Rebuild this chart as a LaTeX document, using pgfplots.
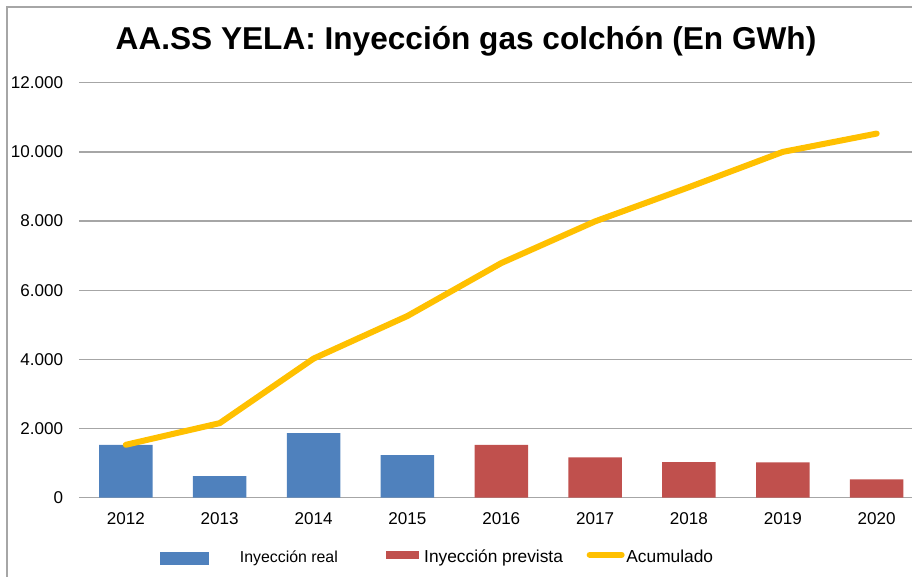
\documentclass[border=0pt]{standalone}
\usepackage{pgfplots}
\pgfplotsset{compat=1.18}
\usepackage{fontspec}
\setmainfont{Liberation Sans}
\definecolor{barblue}{HTML}{4F81BD}
\definecolor{barred}{HTML}{C0504D}
\definecolor{linegold}{HTML}{FFC000}
\definecolor{gridgray}{HTML}{A6A6A6}
\begin{document}
\begin{tikzpicture}
\path[use as bounding box] (0pt,0pt) rectangle (684pt,-432.75pt);
\draw[gridgray, line width=1pt] (5.25pt,-432.75pt) -- (5.25pt,-5.25pt) -- (684pt,-5.25pt);
\node[font=\fontsize{23.7}{27}\selectfont\bfseries, inner sep=0pt, anchor=base] at (349.5pt,-37pt) {AA.SS YELA: Inyección gas colchón (En GWh)};
\begin{axis}[
  at={(59.175pt,-373.275pt)}, anchor=south west, scale only axis,
  width=624.8pt, height=311.25pt,
  xmin=-0.5, xmax=8.376, ymin=0, ymax=12000,
  axis line style={draw=none},
  major tick length=0pt,
  scaled y ticks=false,
  ytick={0,2000,4000,6000,8000,10000,12000},
  ymajorgrids, grid style={gridgray, line width=1pt},
  xtick={0,1,2,3,4,5,6,7,8},
  xticklabels={2012,2013,2014,2015,2016,2017,2018,2019,2020},
  yticklabel style={font=\fontsize{12.8}{15}\selectfont, inner sep=0pt, xshift=-11.7pt},
  xticklabel style={font=\fontsize{12.8}{15}\selectfont, inner sep=0pt, yshift=-10.7pt},
  legend columns=3,
  legend style={at={(axis description cs:0.0973,-0.144)}, anchor=west, draw=none, fill=none,
    inner sep=0pt, outer sep=0pt, column sep=0pt,
    nodes={inner sep=0pt, font=\fontsize{13}{15}\selectfont}},
  /pgf/number format/1000 sep={.},
  /pgf/number format/assume math mode=true,
]
\addplot[ybar, bar width=0.57, bar shift=0pt, fill=barblue, draw=none,
  legend image code/.code={\fill[barblue] (0pt,-5.65pt) rectangle (36.75pt,4.15pt);}]
  coordinates {(0,1530) (1,626) (2,1866) (3,1232)};
\addlegendentry{\hspace*{23.25pt}{\fontsize{11.9}{14}\selectfont Inyección real}\hspace*{36pt}\null}
\addplot[ybar, bar width=0.57, bar shift=0pt, fill=barred, draw=none,
  legend image code/.code={\fill[barred] (0pt,-1.05pt) rectangle (25pt,4.95pt);}]
  coordinates {(4,1530) (5,1165) (6,1030) (7,1020) (8,530)};
\addlegendentry{\hspace*{3.75pt}Inyección prevista\hspace*{17.8pt}\null}
\addplot[linegold, line width=4.5pt, line cap=round, line join=round, mark=none,
  legend image code/.code={\draw[linegold, line width=4.5pt, line cap=round] (2.25pt,1.95pt) -- (26.25pt,1.95pt);}]
  coordinates {(0,1530) (1,2156) (2,4022) (3,5254) (4,6784) (5,7990) (6,8979) (7,9999) (8,10529)};
\addlegendentry{\hspace*{1.3pt}Acumulado}
\end{axis}
\end{tikzpicture}
\end{document}
